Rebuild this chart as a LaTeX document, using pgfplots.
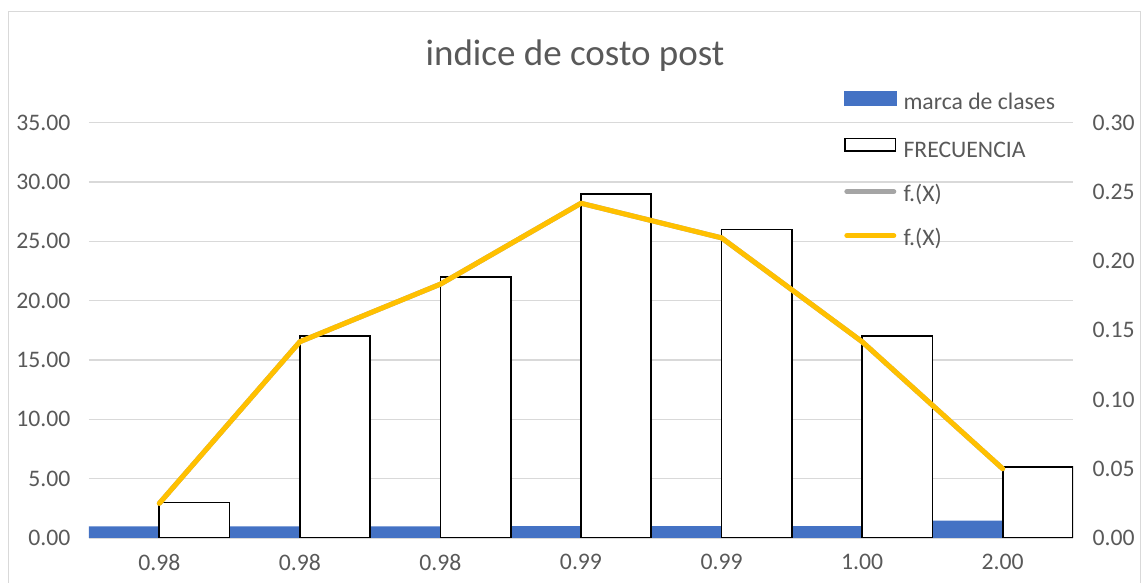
\documentclass[border=0pt]{standalone}
\usepackage{pgfplots}
\pgfplotsset{compat=1.18}
\usepackage{fontspec}
\setmainfont{Carlito}
\definecolor{txt}{HTML}{595959}
\definecolor{grd}{HTML}{D9D9D9}
\definecolor{blu}{HTML}{4472C4}
\definecolor{yel}{HTML}{FFC000}
\definecolor{gry}{HTML}{A5A5A5}
\pgfplotsset{
  common/.style={
    at={(89pt,45pt)}, anchor=south west, scale only axis,
    width=984pt, height=415.5pt,
    xmin=-0.5, xmax=6.5, ymin=0,
    major tick length=0pt,
    /pgf/number format/assume math mode=true,
    tick label style={text=txt, font=\fontsize{23.7}{28}\selectfont},
    y tick label style={/pgf/number format/fixed, /pgf/number format/fixed zerofill, /pgf/number format/precision=2},
  }
}
\begin{document}
\begin{tikzpicture}[x=1pt,y=1pt]
\useasboundingbox (0,0) rectangle (1142,583);
\draw[grd, line width=1.5pt] (8.5,-5) -- (8.5,571.5) -- (1140.5,571.5) -- (1140.5,-5);
\node[text=txt, font=\fontsize{37}{44}\selectfont] at (575,527) {indice de costo post};
\begin{axis}[common,
  ymax=35,
  xtick={0,...,6}, xticklabels={0.98,0.98,0.98,0.99,0.99,1.00,2.00},
  x tick label style={yshift=-13pt},
  ytick={0,5,10,15,20,25,30,35},
  y tick label style={xshift=-15pt},
  axis x line*=bottom, axis y line*=left,
  x axis line style={grd, line width=1.5pt, -},
  y axis line style={draw=none},
  ymajorgrids, grid style={grd, line width=1.3pt},
]
\addplot[ybar, bar width=0.5, bar shift=-0.25, fill=blu, draw=none]
  coordinates {(0,0.98) (1,0.98) (2,0.98) (3,0.99) (4,0.99) (5,1.00) (6,1.46)};
\addplot[ybar, bar width=0.5, bar shift=0.25, fill=white, draw=black, line width=1.6pt]
  coordinates {(0,3) (1,17) (2,22) (3,29) (4,26) (5,17) (6,6)};
\end{axis}
\begin{axis}[common,
  ymax=0.30,
  axis x line=none, axis y line*=right,
  y axis line style={draw=none},
  ytick={0,0.05,0.10,0.15,0.20,0.25,0.30},
  y tick label style={xshift=16pt},
  legend style={at={(0.7672,1.0758)}, anchor=north west, draw=none, fill=none,
    inner sep=0pt, row sep=22pt, column sep=4pt, text=txt,
    font=\fontsize{23.7}{28}\selectfont,
    nodes={inner xsep=3pt, inner ysep=0pt, text height=16pt, text depth=6pt}},
  legend cell align=left,
]
\addlegendimage{legend image code/.code={\fill[blu] (0pt,0pt) rectangle (52pt,13.5pt);}}
\addlegendentry{marca de clases}
\addlegendimage{legend image code/.code={\draw[black, line width=1.6pt, fill=white] (0.8pt,1.5pt) rectangle (51.2pt,14pt);}}
\addlegendentry{FRECUENCIA}
\addplot[gry, line width=5pt, line cap=round, line join=round,
  legend image code/.code={\draw[gry, line width=5pt, line cap=round] (2.5pt,5pt) -- (49.5pt,5pt);}]
  coordinates {(0,0.025) (1,0.1417) (2,0.1833) (3,0.2417) (4,0.2167) (5,0.1417) (6,0.05)};
\addlegendentry{f.(X)}
\addplot[yel, line width=5pt, line cap=round, line join=round,
  legend image code/.code={\draw[yel, line width=5pt, line cap=round] (2.5pt,5pt) -- (49.5pt,5pt);}]
  coordinates {(0,0.025) (1,0.1417) (2,0.1833) (3,0.2417) (4,0.2167) (5,0.1417) (6,0.05)};
\addlegendentry{f.(X)}
\end{axis}
\end{tikzpicture}
\end{document}
